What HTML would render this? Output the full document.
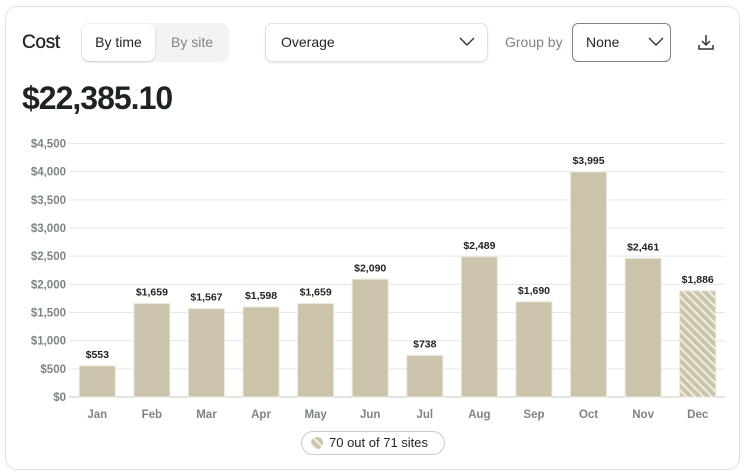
<!DOCTYPE html>
<html><head><meta charset="utf-8"><style>
body{margin:0;width:746px;height:476px;background:#fff;font-family:"Liberation Sans",sans-serif;overflow:hidden;position:relative}
.card{position:absolute;left:5px;top:6px;width:735px;height:464px;border:1px solid #dfe2e1;border-radius:12px;box-sizing:border-box}
.abs{position:absolute}
</style></head><body>
<div class="card"></div>
<div class="abs" style="left:22px;top:32px;font-size:19px;color:#1d2422;letter-spacing:-0.3px;-webkit-text-stroke:0.3px #1d2422">Cost</div>
<div class="abs" style="left:81px;top:23px;width:148px;height:39px;background:#f3f3f3;border-radius:8px"></div>
<div class="abs" style="left:82px;top:24px;width:73px;height:37px;background:#fff;border-radius:7px;box-shadow:0 1px 2px rgba(0,0,0,.18);font-size:14px;color:#1d2422;line-height:37px;text-align:center">By time</div>
<div class="abs" style="left:156px;top:24px;width:72px;height:37px;font-size:14px;color:#7c8582;line-height:37px;text-align:center">By site</div>
<div class="abs" style="left:265px;top:23px;width:223px;height:39px;border:1px solid #dfe2e1;border-radius:7px;box-sizing:border-box;box-shadow:0 1px 2px rgba(0,0,0,.1);font-size:14px;color:#1d2422;line-height:37px;padding-left:15px">Overage
<svg style="position:absolute;right:12px;top:13px" width="16" height="10"><polyline points="1,1 8,8 15,1" fill="none" stroke="#333" stroke-width="1.4"/></svg></div>
<div class="abs" style="left:505px;top:34px;font-size:14px;color:#7c8582">Group by</div>
<div class="abs" style="left:572px;top:23px;width:99px;height:39px;border:1px solid #7c8582;border-radius:6px;box-sizing:border-box;font-size:14px;color:#1d2422;line-height:37px;padding-left:13px">None
<svg style="position:absolute;right:6px;top:13px" width="16" height="10"><polyline points="1,1 8,8 15,1" fill="none" stroke="#333" stroke-width="1.4"/></svg></div>
<svg class="abs" style="left:697px;top:33px" width="18" height="18"><path d="M9 2v10M5 8l4 4 4-4M2 12v4h14v-4" fill="none" stroke="#333" stroke-width="1.5"/></svg>
<div class="abs" style="left:22px;top:80px;font-size:32px;font-weight:bold;color:#1d2422;letter-spacing:-1px">$22,385.10</div>
<svg class="abs" style="left:0;top:0" width="746" height="476" id="chart">
<defs><pattern id="hatch" width="6" height="6" patternUnits="userSpaceOnUse" patternTransform="rotate(-45)"><rect width="6" height="6" fill="#cbc3aa"/><rect width="2" height="6" fill="#f1ede2"/></pattern></defs>
</svg>
<div class="abs" style="left:301px;top:431px;width:144px;height:24px;border:1px solid #c9cccb;border-radius:12px;box-sizing:border-box;font-size:13px;color:#1d2422;line-height:22px;padding-left:27px">70 out of 71 sites
<svg style="position:absolute;left:9px;top:5px" width="12" height="12"><circle cx="6" cy="6" r="6" fill="url(#hatch)"/></svg></div>
<script>
const categories=["Jan","Feb","Mar","Apr","May","Jun","Jul","Aug","Sep","Oct","Nov","Dec"];
const values=[553,1659,1567,1598,1659,2090,738,2489,1690,3995,2461,1886];
const valueLabels=["$553","$1,659","$1,567","$1,598","$1,659","$2,090","$738","$2,489","$1,690","$3,995","$2,461","$1,886"];
const ticks=[0,500,1000,1500,2000,2500,3000,3500,4000,4500];
const tickLabels=["$0","$500","$1,000","$1,500","$2,000","$2,500","$3,000","$3,500","$4,000","$4,500"];
const svg=document.getElementById('chart');const NS="http://www.w3.org/2000/svg";
const L=70,R=725,T=143.5,B=397,MAX=4500;
const y=v=>B-(v/MAX)*(B-T);const bw=(R-L)/categories.length;const x=i=>L+bw*i+bw/2;
function mk(t,a,txt){const e=document.createElementNS(NS,t);for(const k in a)e.setAttribute(k,a[k]);if(txt!=null)e.textContent=txt;svg.appendChild(e);return e;}
ticks.forEach((t,i)=>{
const g=mk('line',{x1:L-1,x2:R,y1:y(t),y2:y(t),stroke:t===0?'#c4c7c6':'#e5e7e6','stroke-width':1});


const l=mk('text',{x:L-4,y:y(t)+4,'text-anchor':'end','font-size':11.5,'font-weight':'bold',fill:'#7c8582','font-family':'Liberation Sans'},tickLabels[i]);


});
values.forEach((v,i)=>{
const r=mk('rect',{x:x(i)-18,y:y(v),width:36,height:B-y(v),fill:i===11?'url(#hatch)':'#cbc3aa',stroke:'#ece7d9','stroke-width':1});


const t=mk('text',{x:x(i),y:y(v)-8,'text-anchor':'middle','font-size':10.5,'font-weight':'bold',fill:'#1d2422','font-family':'Liberation Sans'},valueLabels[i]);


const c=mk('text',{x:x(i),y:418,'text-anchor':'middle','font-size':11.5,'font-weight':'bold',fill:'#7c8582','font-family':'Liberation Sans'},categories[i]);


});
</script>
</body></html>
